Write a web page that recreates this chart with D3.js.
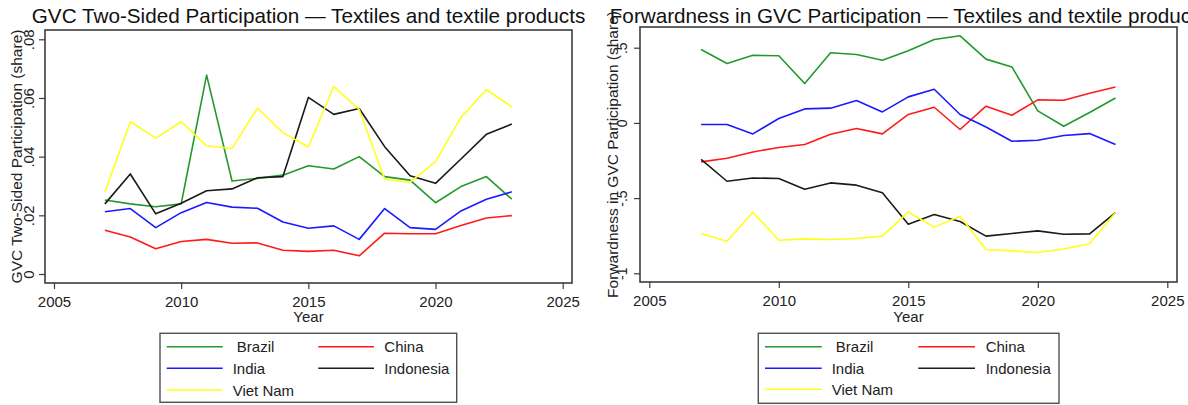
<!DOCTYPE html>
<html>
<head>
<meta charset="utf-8">
<script src="https://cdn.jsdelivr.net/npm/d3@7"></script>
<style>
  html, body { margin: 0; padding: 0; background: #fff; }
  svg { display: block; font-family: "Liberation Sans", Arial, Helvetica, sans-serif; }
</style>
</head>
<body>
<svg id="chart" width="1188" height="405"></svg>
<script>
// Years covered by both panels
const years = [2007, 2008, 2009, 2010, 2011, 2012, 2013, 2014, 2015,
               2016, 2017, 2018, 2019, 2020, 2021, 2022, 2023];

const countries = ["Brazil", "China", "India", "Indonesia", "Viet Nam"];
const countryColors = ["#22992a", "#ff1a1a", "#1a1aff", "#1a1a1a", "#ffff1a"];

// GVC two-sided participation (share)
const twoSidedBrazil    = [0.0252, 0.0239, 0.0229, 0.0239, 0.0678, 0.0317, 0.0326, 0.0337, 0.0369, 0.0358, 0.0400, 0.0332, 0.0320, 0.0243, 0.0298, 0.0332, 0.0255];
const twoSidedChina     = [0.0149, 0.0126, 0.0086, 0.0111, 0.0118, 0.0105, 0.0106, 0.0081, 0.0077, 0.0081, 0.0062, 0.0139, 0.0137, 0.0137, 0.0165, 0.0191, 0.0199];
const twoSidedIndia     = [0.0212, 0.0223, 0.0158, 0.0209, 0.0244, 0.0228, 0.0224, 0.0177, 0.0156, 0.0164, 0.0118, 0.0223, 0.0158, 0.0152, 0.0215, 0.0255, 0.0280];
const twoSidedIndonesia = [0.0239, 0.0341, 0.0205, 0.0241, 0.0284, 0.0290, 0.0328, 0.0332, 0.0602, 0.0544, 0.0564, 0.0434, 0.0335, 0.0309, 0.0392, 0.0476, 0.0511];
const twoSidedVietNam   = [0.0279, 0.0519, 0.0463, 0.0519, 0.0437, 0.0428, 0.0565, 0.0482, 0.0433, 0.0639, 0.0561, 0.0323, 0.0313, 0.0383, 0.0534, 0.0628, 0.0570];

// Forwardness in GVC participation
const fwdBrazil    = [0.488, 0.395, 0.450, 0.446, 0.262, 0.466, 0.455, 0.417, 0.479, 0.554, 0.579, 0.424, 0.372, 0.080, -0.022, 0.069, 0.166];
const fwdChina     = [-0.259, -0.235, -0.193, -0.164, -0.144, -0.075, -0.037, -0.073, 0.056, 0.104, -0.044, 0.111, 0.051, 0.153, 0.151, 0.197, 0.239];
const fwdIndia     = [-0.011, -0.011, -0.073, 0.029, 0.093, 0.098, 0.149, 0.073, 0.173, 0.224, 0.056, -0.027, -0.122, -0.115, -0.084, -0.071, -0.144];
const fwdIndonesia = [-0.243, -0.388, -0.366, -0.370, -0.441, -0.399, -0.414, -0.465, -0.674, -0.609, -0.656, -0.753, -0.735, -0.718, -0.740, -0.738, -0.596];
const fwdVietNam   = [-0.735, -0.787, -0.594, -0.780, -0.771, -0.775, -0.769, -0.753, -0.592, -0.693, -0.620, -0.842, -0.851, -0.862, -0.838, -0.804, -0.596];

// Axis ticks
const xTicks = [2005, 2010, 2015, 2020, 2025];
const twoSidedTicks = [0, 0.02, 0.04, 0.06, 0.08];
const twoSidedTickLabels = ["0", ".02", ".04", ".06", ".08"];
const fwdTicks = [-1, -0.5, 0, 0.5];
const fwdTickLabels = ["-1", "-.5", "0", ".5"];

const svg = d3.select("#chart");

function drawPanel(cfg) {
  const g = svg.append("g");
  const x = d3.scaleLinear().domain([2005, 2025]).range(cfg.xRange);
  const y = d3.scaleLinear().domain(cfg.yDomain).range(cfg.yRange);

  // Title
  g.append("text")
    .attr("x", (cfg.frame.x0 + cfg.frame.x1) / 2)
    .attr("y", 23)
    .attr("text-anchor", "middle")
    .attr("font-size", 20.7)
    .attr("fill", "#111")
    .text(cfg.title);

  // Lines
  const line = d3.line().x((d, i) => x(years[i])).y(d => y(d));
  cfg.series.forEach((vals, k) => {
    g.append("path")
      .datum(vals)
      .attr("fill", "none")
      .attr("stroke", countryColors[k])
      .attr("stroke-width", 1.6)
      .attr("stroke-linejoin", "round")
      .attr("d", line);
  });

  // Frame
  g.append("rect")
    .attr("x", cfg.frame.x0).attr("y", cfg.frame.y0)
    .attr("width", cfg.frame.x1 - cfg.frame.x0)
    .attr("height", cfg.frame.y1 - cfg.frame.y0)
    .attr("fill", "none")
    .attr("stroke", "#3c3c3c")
    .attr("stroke-width", 1.6);

  // Y axis
  const yAxis = d3.axisLeft(y).tickValues(cfg.yTicks)
    .tickFormat((d, i) => cfg.yTickLabels[i]).tickSize(6).tickSizeOuter(0);
  const ya = g.append("g").attr("transform", `translate(${cfg.frame.x0},0)`).call(yAxis);
  ya.select(".domain").remove();
  ya.selectAll(".tick line").attr("stroke", "#3c3c3c").attr("stroke-width", 1.2);
  ya.selectAll(".tick text")
    .attr("transform", "rotate(-90)")
    .attr("x", 0).attr("y", cfg.yLabelOffset).attr("dy", 0)
    .attr("text-anchor", "middle")
    .attr("font-size", cfg.yTickFont)
    .attr("fill", "#222");

  // X axis
  const xAxis = d3.axisBottom(x).tickValues(xTicks).tickFormat(d3.format("d"))
    .tickSize(6).tickSizeOuter(0);
  const xa = g.append("g").attr("transform", `translate(0,${cfg.frame.y1})`).call(xAxis);
  xa.select(".domain").remove();
  xa.selectAll(".tick line").attr("stroke", "#3c3c3c").attr("stroke-width", 1.2);
  xa.selectAll(".tick text")
    .attr("y", 24).attr("dy", 0)
    .attr("font-size", 15)
    .attr("fill", "#222");

  // Axis titles
  g.append("text")
    .attr("x", (cfg.frame.x0 + cfg.frame.x1) / 2)
    .attr("y", 322)
    .attr("text-anchor", "middle")
    .attr("font-size", 15)
    .attr("fill", "#222")
    .text("Year");

  g.append("text")
    .attr("transform", `translate(${cfg.yTitleX},${(cfg.frame.y0 + cfg.frame.y1) / 2}) rotate(-90)`)
    .attr("text-anchor", "middle")
    .attr("font-size", 15.5)
    .attr("fill", "#222")
    .text(cfg.yTitle);

  // Legend
  const L = cfg.legend;
  g.append("rect")
    .attr("x", L.x0).attr("y", L.y0)
    .attr("width", L.x1 - L.x0).attr("height", L.y1 - L.y0)
    .attr("fill", "#fff")
    .attr("stroke", "#505050")
    .attr("stroke-width", 1.4);
  const slots = [[0, 0], [1, 0], [0, 1], [1, 1], [0, 2]];
  countries.forEach((name, k) => {
    const [col, row] = slots[k];
    const cy = L.rows[row];
    const c = L.cols[col];
    g.append("line")
      .attr("x1", c.l0).attr("x2", c.l1)
      .attr("y1", cy).attr("y2", cy)
      .attr("stroke", countryColors[k])
      .attr("stroke-width", 1.6);
    g.append("text")
      .attr("x", c.t)
      .attr("y", cy + 5.5)
      .attr("font-size", 15)
      .attr("fill", "#222")
      .attr("xml:space", "preserve")
      .text(name === "Brazil" ? " " + name : name);
  });
}

drawPanel({
  title: "GVC Two-Sided Participation \u2014 Textiles and textile products",
  yTitle: "GVC Two-Sided Participation (share)",
  frame: { x0: 45, x1: 572, y0: 30, y1: 283 },
  xRange: [54, 562.7],
  yDomain: [0, 0.08],
  yRange: [274, 39.3],
  yTicks: twoSidedTicks,
  yTickLabels: twoSidedTickLabels,
  yLabelOffset: -11,
  yTickFont: 15,
  yTitleX: 22,
  series: [twoSidedBrazil, twoSidedChina, twoSidedIndia, twoSidedIndonesia, twoSidedVietNam],
  legend: {
    x0: 160, x1: 456.7, y0: 333.3, y1: 402.3,
    rows: [346.7, 368.3, 390],
    cols: [{ l0: 166.7, l1: 222.7, t: 232.7 }, { l0: 318.3, l1: 374, t: 384.3 }]
  }
});

drawPanel({
  title: "Forwardness in GVC Participation \u2014 Textiles and textile products",
  yTitle: "Forwardness in GVC Participation (share)",
  frame: { x0: 640, x1: 1177, y0: 27, y1: 282 },
  xRange: [649.3, 1167.3],
  yDomain: [-1, 0.5],
  yRange: [273.3, 47.7],
  yTicks: fwdTicks,
  yTickLabels: fwdTickLabels,
  yLabelOffset: -13,
  yTickFont: 14,
  yTitleX: 618,
  series: [fwdBrazil, fwdChina, fwdIndia, fwdIndonesia, fwdVietNam],
  legend: {
    x0: 758.3, x1: 1059, y0: 333.3, y1: 403.3,
    rows: [346.7, 368.3, 389.3],
    cols: [{ l0: 765, l1: 821.7, t: 831.7 }, { l0: 918.3, l1: 975, t: 985.7 }]
  }
});
</script>
</body>
</html>
